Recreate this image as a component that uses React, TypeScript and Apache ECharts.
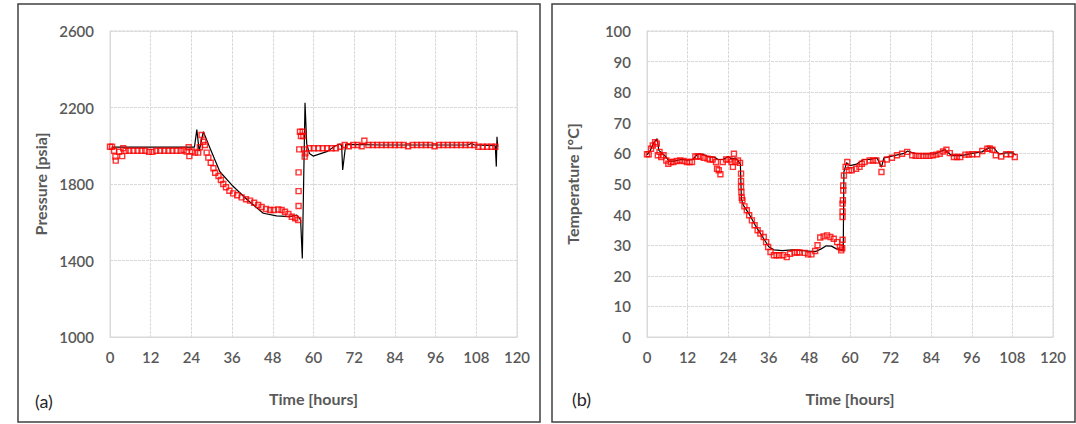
import React, { useEffect, useRef } from "react";
import * as echarts from "echarts";

// ---- Panel (a): pressure ----
const P_SIM_T = [0.5, 2, 24, 24.9, 25.6, 26.3, 27.5, 28.3, 29.5, 32.4, 35.9, 40.3, 45.2, 49.1, 53.1, 55.0, 56.2, 56.7, 57.5, 58.0, 58.8, 59.9, 63.9, 66.5, 67.8, 68.3, 68.6, 69.5, 80, 95, 105.5, 106.5, 107.5, 113.6, 113.9, 114.1, 114.3];
const P_SIM_V = [1993, 1993, 1993, 1993, 2084, 1972, 2073, 2040, 1987, 1864, 1795, 1720, 1647, 1633, 1629, 1638, 1612, 1411, 2225, 2010, 1960, 1946, 1969, 2000, 2009, 2000, 1873, 2007, 2004, 2004, 2004, 2012, 2004, 2000, 1891, 2047, 1995];

const P_MEAS_T = [0, 0.6, 1.2, 1.6, 1.7, 2.7, 3.6, 3.9, 4.6, 5.7, 6.9, 8.1, 9.3, 10.4, 11.5, 12.5, 13.6, 14.8, 16.0, 17.2, 18.4, 19.6, 20.8, 21.7, 22.6, 23.2, 23.4, 24.2, 25.1, 26.0, 26.5, 27.0, 27.5, 28.0, 28.5, 29.0, 29.7, 30.5, 31.0, 32.0, 32.7, 33.4, 34.2, 35.2, 36.3, 37.5, 38.8, 40.1, 41.3, 42.5, 43.7, 44.7, 46.0, 47.2, 48.3, 49.6, 50.6, 51.6, 52.6, 53.6, 54.6, 55.5, 55.6, 55.6, 55.6, 55.8, 56.0, 56.3, 56.8, 57.0, 57.2, 57.4, 57.6, 58.8, 60.1, 61.4, 62.7, 64.0, 65.3, 66.6, 67.9, 69.2, 70.4, 71.7, 73.0, 74.2, 75.0, 76.2, 77.5, 78.8, 80.1, 81.4, 82.7, 84.0, 85.3, 86.6, 87.9, 89.2, 90.5, 91.8, 93.1, 94.4, 95.7, 97.0, 98.3, 99.6, 100.9, 102.2, 103.5, 104.8, 106.1, 107.4, 108.6, 109.9, 111.2, 112.5, 113.6];
const P_MEAS_V = [1995, 1995, 1974, 1943, 1922, 1969, 1946, 1987, 1974, 1974, 1974, 1974, 1974, 1974, 1968, 1968, 1974, 1974, 1974, 1974, 1974, 1974, 1974, 1978, 1970, 1992, 1946, 1970, 1964, 1964, 1992, 2056, 2021, 2004, 1964, 1938, 1911, 1882, 1859, 1842, 1821, 1800, 1783, 1765, 1751, 1741, 1730, 1720, 1713, 1702, 1690, 1680, 1669, 1664, 1664, 1667, 1664, 1655, 1643, 1629, 1621, 1612, 1685, 1763, 1861, 1981, 2073, 2051, 2073, 2051, 1981, 1943, 1960, 1987, 1987, 1987, 1987, 1987, 1987, 1987, 1995, 2004, 1997, 2004, 2004, 1997, 2026, 2004, 2004, 2004, 2004, 2004, 2004, 2004, 2004, 2004, 1997, 2004, 2004, 2004, 2004, 2004, 1997, 2004, 2004, 2004, 2004, 2004, 2004, 2004, 2004, 2004, 1995, 1995, 1995, 1995, 1995];

// ---- Panel (b): temperature ----
const T_SIM_T = [0, 1, 2, 3, 3.5, 4.5, 5.5, 6.5, 8, 10, 12, 13.5, 15, 16.5, 18, 20, 21, 22.5, 24, 25, 26, 27, 27.6, 27.9, 28.5, 30, 32, 34, 36, 37.5, 40, 43, 46, 48.5, 50, 51.5, 53, 54.5, 56, 57.5, 58, 58.2, 59, 60, 62, 64, 66, 68, 69.3, 70, 72, 76, 77, 79, 82, 85, 88, 90, 93, 96, 99, 101, 102.5, 104, 106, 108, 109];
const T_SIM_V = [59.5, 61, 63.5, 64.8, 61, 60, 59, 57.5, 57.5, 58, 57.8, 58, 59.8, 59.7, 59, 58.7, 58, 58, 59, 58.2, 58.5, 57.5, 56.5, 45, 43, 40.5, 36.5, 33, 29.5, 28.5, 28.2, 28.5, 28.2, 28, 28, 28.8, 29.8, 29.7, 28.8, 28.5, 28.2, 54, 57, 56, 56.5, 58, 58, 58.5, 55.5, 58.5, 59, 60, 60.8, 60, 59.8, 59.8, 61.2, 59.3, 59.3, 60, 60.5, 61.8, 61.8, 59.8, 60.2, 60.2, 59.5];

const T_MEAS_T = [0, 0.5, 1.2, 1.7, 2.4, 2.9, 3.2, 3.7, 4.2, 4.9, 5.7, 6.3, 7.0, 7.8, 8.8, 9.8, 10.8, 11.8, 12.6, 13.3, 14.3, 15.0, 15.8, 16.8, 17.9, 18.6, 19.4, 20.4, 20.7, 21.2, 21.7, 22.4, 23.4, 24.4, 25.0, 25.4, 25.7, 26.1, 26.9, 27.5, 27.8, 27.8, 27.8, 27.9, 28.0, 28.2, 28.8, 29.5, 30.2, 31.0, 31.8, 32.7, 33.5, 34.5, 35.2, 35.8, 36.5, 37.5, 38.3, 39.1, 40.3, 41.3, 42.3, 43.6, 44.4, 45.1, 46.6, 47.6, 48.6, 49.7, 50.4, 51.2, 52.2, 53.2, 54.2, 55.2, 56.2, 57.0, 57.4, 57.7, 57.8, 57.8, 57.8, 57.8, 57.9, 58.0, 58.0, 58.2, 58.7, 59.2, 59.7, 60.5, 61.8, 62.8, 63.5, 64.3, 65.8, 66.8, 67.8, 69.3, 69.6, 70.9, 72.4, 73.9, 75.4, 76.9, 78.4, 79.4, 80.4, 81.5, 82.5, 83.5, 84.5, 85.5, 86.5, 87.5, 88.5, 89.5, 90.7, 91.6, 92.6, 94.1, 95.1, 96.1, 97.6, 99.1, 100.6, 101.3, 102.1, 103.1, 104.7, 106.2, 107.5, 108.7];
const T_MEAS_V = [59.7, 59.7, 61.5, 62.6, 63.7, 63.2, 59.4, 60.5, 58.8, 59.4, 57.7, 56.6, 57.2, 57.2, 57.5, 57.7, 57.5, 57.2, 57.2, 57.2, 59.0, 59.0, 59.0, 58.6, 58.3, 58.0, 58.0, 57.2, 55.0, 54.5, 53.2, 57.2, 58.0, 58.0, 57.2, 55.6, 59.9, 57.2, 57.7, 56.9, 53.4, 51.0, 49.0, 47.4, 45.5, 44.7, 42.7, 41.4, 39.8, 38.1, 36.5, 34.9, 33.8, 32.7, 31.0, 29.4, 27.8, 26.7, 26.7, 26.7, 26.7, 26.1, 27.2, 27.6, 27.6, 27.6, 27.5, 27.0, 27.0, 28.1, 30.0, 32.5, 32.9, 33.2, 32.7, 32.1, 31.0, 29.4, 28.3, 29.0, 31.8, 39.2, 41.0, 43.6, 44.7, 47.9, 49.5, 52.8, 55.6, 57.2, 54.5, 54.5, 55.0, 55.6, 56.6, 57.2, 57.7, 57.7, 57.7, 53.9, 56.6, 58.0, 58.6, 59.4, 59.9, 60.5, 59.4, 59.2, 59.2, 59.2, 59.2, 59.2, 59.4, 59.6, 59.9, 60.6, 61.2, 60.1, 58.8, 58.8, 58.8, 59.6, 59.6, 59.7, 59.7, 60.8, 61.5, 61.6, 61.2, 59.4, 59.0, 59.7, 59.7, 58.8];

const X_MIN = 0, X_MAX = 120, X_STEP = 12;
const P_MIN = 1000, P_MAX = 2600, P_STEP = 400;
const T_MIN = 0, T_MAX = 100, T_STEP = 10;

const zip = (a: number[], b: number[]) => a.map((v, i) => [v, b[i]]);

const FONT = "Lato, 'Liberation Sans', sans-serif";
const LABEL = "#595959";
const GRID = "#d9d9d9";

function xAxis(gridIndex: number) {
  return {
    type: "value", gridIndex, min: X_MIN, max: X_MAX, interval: X_STEP,
    name: "Time [hours]", nameLocation: "middle", nameGap: 53,
    nameTextStyle: { color: LABEL, fontFamily: FONT, fontSize: 16, fontWeight: "bold" },
    axisLine: { show: true, lineStyle: { color: GRID } },
    axisTick: { show: false },
    axisLabel: { color: LABEL, fontFamily: FONT, fontSize: 15, fontWeight: 600, margin: 12, formatter: (v: number) => String(v) },
    splitLine: { show: true, lineStyle: { color: GRID, type: [3, 1], width: 1 } },
  };
}
function yAxis(gridIndex: number, name: string, min: number, max: number, step: number, gap: number) {
  return {
    type: "value", gridIndex, min, max, interval: step,
    name, nameLocation: "middle", nameGap: gap,
    nameTextStyle: { color: LABEL, fontFamily: FONT, fontSize: 16, fontWeight: "bold" },
    axisLine: { show: true, lineStyle: { color: GRID } },
    axisTick: { show: false },
    axisLabel: { color: LABEL, fontFamily: FONT, fontSize: 15, fontWeight: 600, margin: 16, formatter: (v: number) => String(v) },
    splitLine: { show: true, lineStyle: { color: GRID, type: [3, 1], width: 1 } },
  };
}

const marker = {
  type: "scatter", symbol: "rect", symbolSize: 5,
  itemStyle: { color: "rgba(0,0,0,0)", borderColor: "#ff0000", borderWidth: 1.4 },
  z: 3,
};

export default function App() {
  const ref = useRef<HTMLDivElement>(null);
  useEffect(() => {
    if (!ref.current) return;
    const chart = echarts.init(ref.current, undefined, { renderer: "svg" });
    chart.setOption({
      animation: false,
      backgroundColor: "#ffffff",
      grid: [
        { left: 110, top: 31, width: 407, height: 306, show: true, borderColor: GRID, borderWidth: 1 },
        { left: 647, top: 31, width: 406, height: 306, show: true, borderColor: GRID, borderWidth: 1 },
      ],
      xAxis: [xAxis(0), xAxis(1)],
      yAxis: [
        yAxis(0, "Pressure [psia]", P_MIN, P_MAX, P_STEP, 62),
        yAxis(1, "Temperature [°C]", T_MIN, T_MAX, T_STEP, 67),
      ],
      series: [
        { type: "line", xAxisIndex: 0, yAxisIndex: 0, data: zip(P_SIM_T, P_SIM_V), showSymbol: false, lineStyle: { color: "#000", width: 1.2 }, z: 2 },
        { ...marker, xAxisIndex: 0, yAxisIndex: 0, data: zip(P_MEAS_T, P_MEAS_V) },
        { type: "line", xAxisIndex: 1, yAxisIndex: 1, data: zip(T_SIM_T, T_SIM_V), showSymbol: false, lineStyle: { color: "#000", width: 1.2 }, z: 2 },
        { ...marker, xAxisIndex: 1, yAxisIndex: 1, data: zip(T_MEAS_T, T_MEAS_V) },
      ],
      graphic: [
        { type: "rect", shape: { x: 18, y: 4, width: 522, height: 418 }, style: { fill: "none", stroke: "#404040", lineWidth: 1.5 }, silent: true },
        { type: "rect", shape: { x: 552, y: 4, width: 523, height: 418 }, style: { fill: "none", stroke: "#404040", lineWidth: 1.5 }, silent: true },
        { type: "text", left: 35, top: 392, style: { text: "(a)", fill: "#262626", font: `18px ${FONT}` } },
        { type: "text", left: 572, top: 390, style: { text: "(b)", fill: "#262626", font: `18px ${FONT}` } },
      ],
    });
    return () => chart.dispose();
  }, []);
  return (
    <div
      ref={ref}
      style={{ position: "absolute", left: 0, top: 0, width: 1076, height: 424 }}
    />
  );
}
